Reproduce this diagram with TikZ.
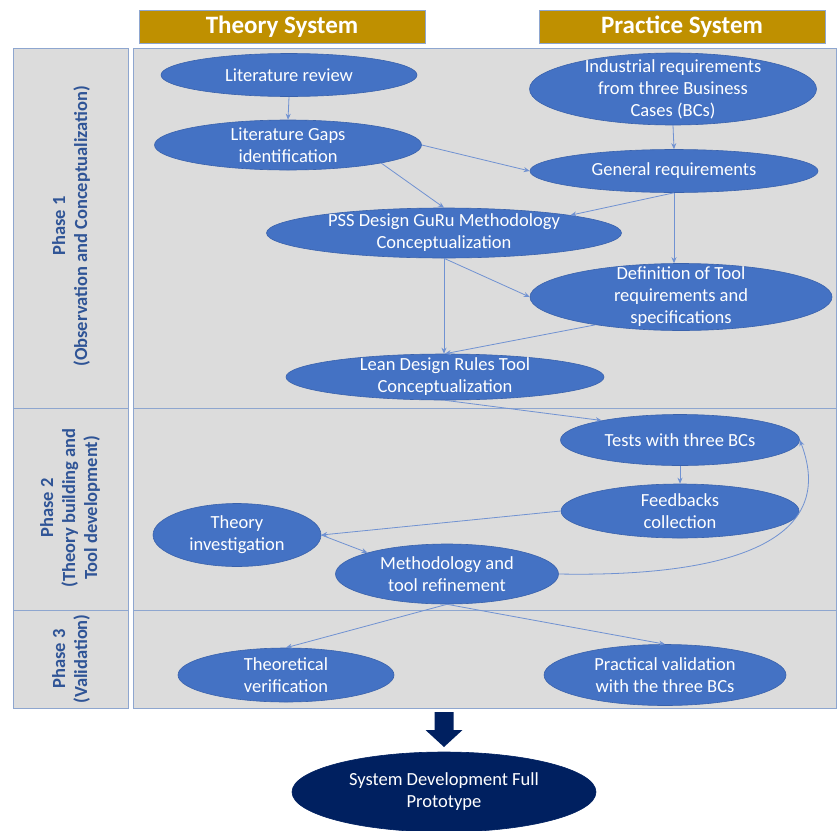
\documentclass[tikz,border=0pt]{standalone}
\usepackage{fontspec}
\setmainfont{Carlito}
\usetikzlibrary{shapes.geometric,arrows.meta}
\definecolor{nodeblue}{HTML}{4472C4}
\definecolor{nodeborder}{HTML}{3A62AC}
\definecolor{panelgray}{HTML}{DCDCDC}
\definecolor{panelborder}{HTML}{8EA6CF}
\definecolor{gold}{HTML}{BF9000}
\definecolor{phasetext}{HTML}{2F5496}
\definecolor{linkblue}{HTML}{7092D2}
\definecolor{navy}{HTML}{002060}
\tikzset{
  ell/.style={ellipse, fill=nodeblue, draw=nodeborder, line width=0.6pt, text=white,
    font=\fontsize{18.5}{22}\selectfont, align=center, inner sep=-25pt},
  conn/.style={draw=linkblue, line width=0.8pt, -{Stealth[length=6pt,width=5pt]}},
  panel/.style={fill=panelgray, draw=panelborder, line width=1pt},
  header/.style={fill=gold, draw=panelborder, line width=0.8pt, text=white,
    font=\bfseries\fontsize{25}{28}\selectfont, inner sep=0pt},
  phaselabel/.style={text=phasetext, font=\bfseries\fontsize{18.5}{22}\selectfont, align=center, rotate=90}
}
\begin{document}
\begin{tikzpicture}[x=1pt,y=-1pt]
\useasboundingbox (0,0) rectangle (837,830);
% headers
\node[header, minimum width=286, minimum height=33] (hth) at (282,26.5) {Theory System};
\node[header, minimum width=286, minimum height=33] (hpr) at (682,26.5) {Practice System};
% left phase column
\draw[panel] (13,48) rectangle (128,408);
\draw[panel] (13,408) rectangle (128,610);
\draw[panel] (13,610) rectangle (128,708);
% main panel
\draw[panel] (133,48) rectangle (836.5,708);
\draw[draw=panelborder, line width=1pt] (133,408) -- (836.5,408);
\draw[draw=panelborder, line width=1pt] (133,610) -- (836.5,610);
% phase labels
\node[phaselabel] (p1) at (71,226) {Phase 1\\(Observation and Conceptualization)};
\node[phaselabel] (p2) at (70,508) {Phase 2\\(Theory building and\\Tool development)};
\node[phaselabel] (p3) at (71,659) {Phase 3\\(Validation)};
% nodes
\node[ell, minimum width=256, minimum height=43] (lr) at (289,75) {Literature review};
\node[ell, minimum width=267, minimum height=50] (lg) at (288,145) {Literature Gaps\\identification};
\node[ell, minimum width=287, minimum height=72] (ir) at (673,89) {Industrial requirements\\from three Business\\Cases (BCs)};
\node[ell, minimum width=288, minimum height=43] (gr) at (674,171) {General requirements};
\node[ell, minimum width=355, minimum height=50] (pss) at (444,233) {PSS Design GuRu Methodology\\Conceptualization};
\node[ell, minimum width=302, minimum height=67] (def) at (681,297) {Definition of Tool\\requirements and\\specifications};
\node[ell, minimum width=318, minimum height=46] (lean) at (445,377) {Lean Design Rules Tool\\Conceptualization};
\node[ell, minimum width=239, minimum height=51] (tests) at (680,440) {Tests with three BCs};
\node[ell, minimum width=238, minimum height=54] (fb) at (680,511) {Feedbacks\\collection};
\node[ell, minimum width=168, minimum height=63] (ti) at (237,535) {Theory\\investigation};
\node[ell, minimum width=223, minimum height=60] (meth) at (447,574) {Methodology and\\tool refinement};
\node[ell, minimum width=216, minimum height=54] (theo) at (286,675) {Theoretical\\verification};
\node[ell, minimum width=242, minimum height=61] (prac) at (665,675) {Practical validation\\with the three BCs};
\node[ell, fill=navy, draw=navy, minimum width=304, minimum height=80] (sys) at (444,792) {System Development Full\\Prototype};
% big arrow
\fill[navy] (434.5,712) -- (453.5,712) -- (453.5,730) -- (462.5,730) -- (444,747) -- (425.5,730) -- (434.5,730) -- cycle;
% connectors
\draw[conn] (lr.south) -- (lg.north);
\draw[conn] (lg.-11) -- (pss.north);
\draw[conn] (lg.east) -- (gr.west);
\draw[conn] (ir.south) -- (gr.north);
\draw[conn] (gr.south) -- (pss.8);
\draw[conn] (gr.south) -- (gr.south |- def.north);
\draw[conn] (pss.south) -- (pss.south |- lean.north);
\draw[conn] (pss.south) -- (def.west);
\draw[conn] (def.198) -- (lean.north);
\draw[conn] (lean.south) -- (tests.166);
\draw[conn] (tests.south) -- (fb.north);
\draw[conn] (fb.west) -- (ti.east);
\draw[conn] (ti.east) -- (meth.165);
\draw[conn] (meth.east) .. controls (720,577) and (840,545) .. (tests.east);
\draw[conn] (meth.south) -- (theo.north);
\draw[conn] (meth.south) -- (prac.north);
\end{tikzpicture}
\end{document}
